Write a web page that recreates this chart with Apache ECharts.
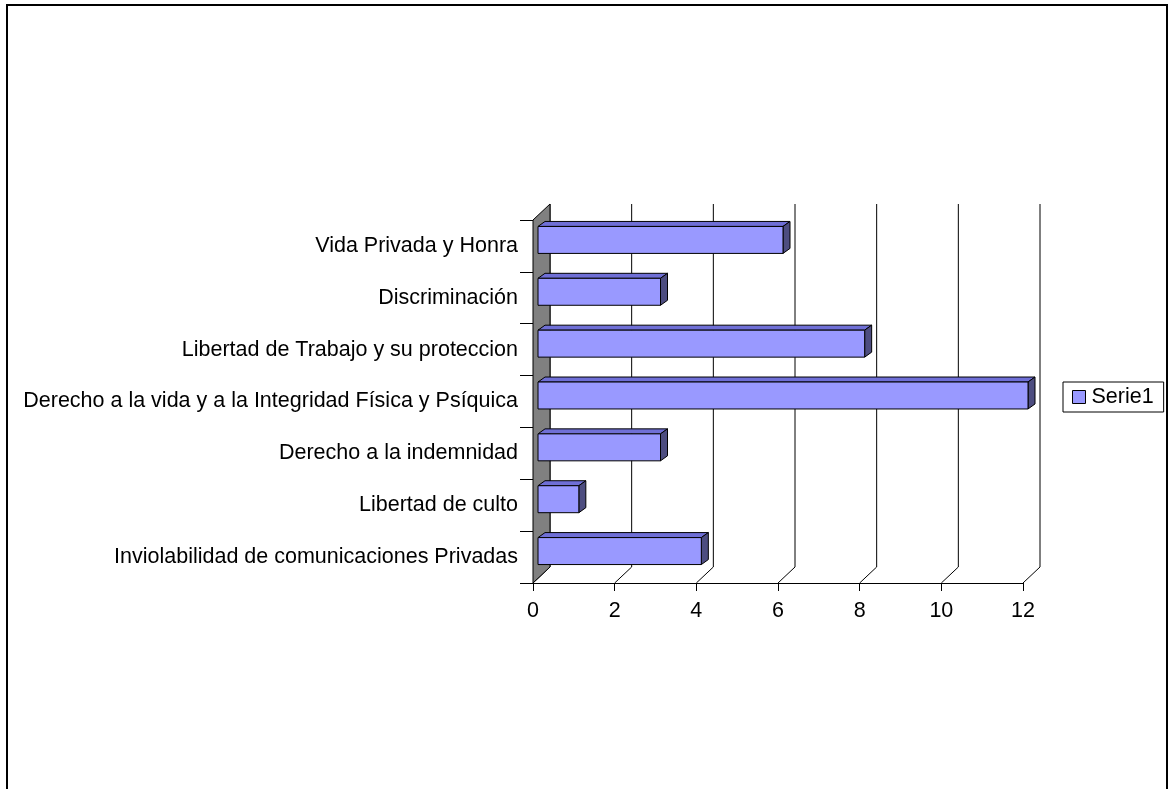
<!DOCTYPE html>
<html>
<head>
<meta charset="utf-8">
<script src="https://cdn.jsdelivr.net/npm/echarts@6/dist/echarts.min.js"></script>
<style>
  html, body { margin: 0; padding: 0; background: #fff; }
  #chart { width: 1174px; height: 789px; }
</style>
</head>
<body>
<div id="chart"></div>
<script>
// categories listed bottom to top, as in the original chart
const categories = [
  "Inviolabilidad de comunicaciones Privadas",
  "Libertad de culto",
  "Derecho a la indemnidad",
  "Derecho a la vida y a la Integridad Física y Psíquica",
  "Libertad de Trabajo y su proteccion",
  "Discriminación",
  "Vida Privada y Honra",
];
const serie1 = [4, 1, 3, 12, 8, 3, 6];
const xTicks = [0, 2, 4, 6, 8, 10, 12];

const chart = echarts.init(document.getElementById("chart"));

// offset of the back wall (3d depth)
const DX = 17, DY = 16;

// back grid lines + floor diagonals + grey side wall
const renderBackGrid = (params, api) => {
  const cs = params.coordSys;
  const top = cs.y, bottom = cs.y + cs.height;
  const p = api.coord([api.value(0), 0]);
  const x = p[0];
  const children = [
    {
      type: "line",
      shape: { x1: x + DX, y1: top - DY, x2: x + DX, y2: bottom - DY },
      style: { stroke: "#000", lineWidth: 1 },
    },
    {
      type: "line",
      shape: { x1: x, y1: bottom, x2: x + DX, y2: bottom - DY },
      style: { stroke: "#000", lineWidth: 1 },
    },
  ];
  if (params.dataIndex === 0) {
    children.push({
      type: "polygon",
      shape: {
        points: [
          [x, top],
          [x + DX, top - DY],
          [x + DX, bottom - DY],
          [x, bottom],
        ],
      },
      style: { fill: "#808080", stroke: "#000", lineWidth: 1 },
    });
  }
  return { type: "group", children };
};

// 3d looking bar: front, top and right face
const renderBar = (params, api) => {
  const val = api.value(0);
  const idx = api.value(1);
  const start = api.coord([0, idx]);
  const end = api.coord([val, idx]);
  const band = api.size([0, 1])[1];
  const h = band * 0.52;
  const x0 = start[0] + 5;
  const x1 = end[0] + 5;
  const yc = start[1] - 6;
  const yt = yc - h / 2;
  const yb = yc + h / 2;
  const dx = 7, dy = 5;
  const line = { stroke: "#000", lineWidth: 1 };
  return {
    type: "group",
    children: [
      {
        type: "polygon",
        shape: { points: [[x0, yt], [x1, yt], [x1 + dx, yt - dy], [x0 + dx, yt - dy]] },
        style: Object.assign({ fill: "#6f6fd6" }, line),
      },
      {
        type: "polygon",
        shape: { points: [[x1, yt], [x1 + dx, yt - dy], [x1 + dx, yb - dy], [x1, yb]] },
        style: Object.assign({ fill: "#4d4d80" }, line),
      },
      {
        type: "rect",
        shape: { x: x0, y: yt, width: x1 - x0, height: h },
        style: Object.assign({ fill: "#9999ff" }, line),
      },
    ],
  };
};

const option = {
  animation: false,
  backgroundColor: "#fff",
  textStyle: { fontFamily: "Liberation Sans, Arial, sans-serif" },
  graphic: [
    {
      type: "rect",
      shape: { x: 7, y: 5, width: 1160, height: 820 },
      style: { fill: "none", stroke: "#000", lineWidth: 2 },
      silent: true,
    },
  ],
  legend: {
    left: 1063,
    top: 382,
    orient: "vertical",
    padding: [4, 10, 4, 9],
    borderColor: "#000",
    borderWidth: 1,
    itemWidth: 13,
    itemHeight: 13,
    itemGap: 4,
    textStyle: { fontSize: 21.5, color: "#000", fontFamily: "Liberation Sans, Arial, sans-serif", padding: [0, 0, 0, 1] },
    data: [
      {
        name: "Serie1",
        icon: "rect",
        itemStyle: { color: "#9999ff", borderColor: "#000", borderWidth: 1 },
      },
    ],
  },
  grid: {
    left: 533,
    top: 220,
    width: 490,
    height: 363,
  },
  xAxis: {
    type: "value",
    min: 0,
    max: 12,
    interval: 2,
    splitLine: { show: false },
    axisLine: { show: true, lineStyle: { color: "#000", width: 1 } },
    axisTick: { show: true, length: 8, lineStyle: { color: "#000" } },
    axisLabel: { color: "#000", fontSize: 21.5, margin: 17 },
  },
  yAxis: {
    type: "category",
    data: categories,
    axisLine: { show: true, lineStyle: { color: "#000", width: 1 } },
    axisTick: { show: true, length: 13, lineStyle: { color: "#000" } },
    axisLabel: { color: "#000", fontSize: 21.5, margin: 15 },
  },
  series: [
    {
      name: "grid",
      type: "custom",
      renderItem: renderBackGrid,
      data: xTicks.map((v) => [v, 0]),
      encode: { x: 0, y: 1 },
      z: 1,
      silent: true,
    },
    {
      name: "Serie1",
      type: "custom",
      renderItem: renderBar,
      itemStyle: { color: "#9999ff" },
      data: serie1.map((v, i) => [v, i]),
      encode: { x: 0, y: 1 },
      z: 3,
    },
  ],
};

chart.setOption(option);
window.addEventListener("resize", () => chart.resize());
</script>
</body>
</html>
